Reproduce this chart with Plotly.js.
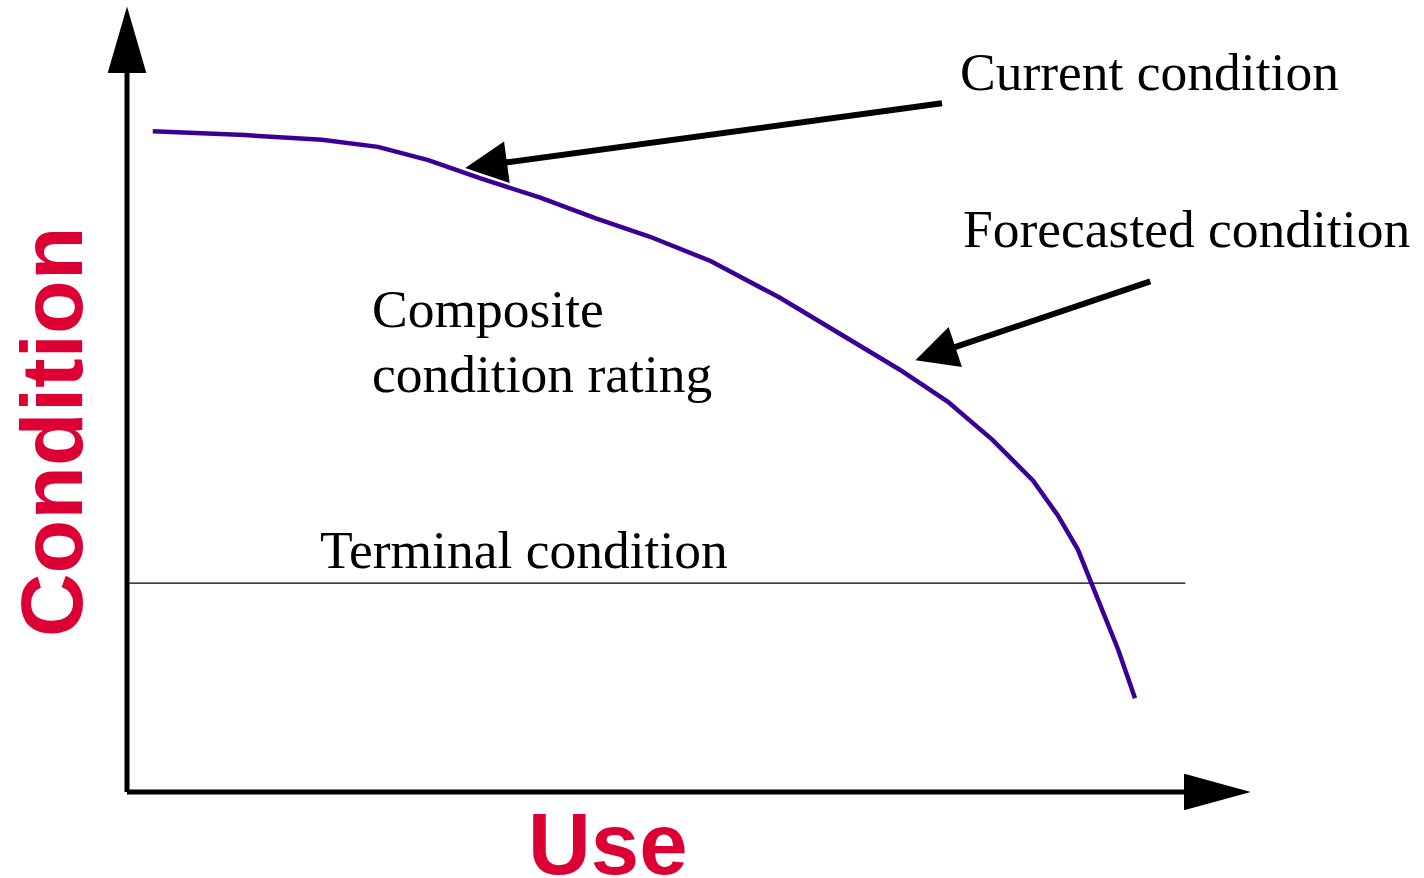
<!DOCTYPE html>
<html>
<head>
<meta charset="utf-8">
<script src="https://cdn.plot.ly/plotly-3.0.1.min.js"></script>
<style>html,body{margin:0;padding:0;background:#fff;}#chart{width:1424px;height:878px;}</style>
</head>
<body>
<div id="chart"></div>
<script>
// Use (x) vs composite condition rating (y), arbitrary units 0-100
const useValues = [2.3, 10.5, 17.4, 22.4, 26.9, 31.5, 36.9, 41.8, 46.7, 52.1, 58.3, 63.7, 69.0, 73.3, 77.3, 80.9, 83.1, 84.9, 86.7, 88.5, 90.0];
const conditionValues = [84.5, 84.0, 83.4, 82.5, 80.8, 78.5, 76.0, 73.4, 71.0, 67.9, 63.2, 58.6, 54.0, 49.9, 45.0, 39.8, 35.4, 31.0, 24.6, 18.2, 12.0];
const terminalCondition = 26.7;
const terminalUse = [0, 94.5];
const currentPoint = {use: 30.2, cond: 79.8};
const forecastPoint = {use: 70.4, cond: 55.2};
const labels = {
  current: "Current condition",
  forecast: "Forecasted condition",
  rating1: "Composite",
  rating2: "condition rating",
  terminal: "Terminal condition",
  yTitle: "Condition",
  xTitle: "Use"
};

const serif = "Liberation Serif, Times New Roman, serif";
const sans = "Liberation Sans, Arial, sans-serif";
const red = "#DC0035";

const traces = [
  {x: terminalUse, y: [terminalCondition, terminalCondition], mode: "lines",
   line: {color: "#000", width: 1.3}, hoverinfo: "skip"},
  {x: useValues, y: conditionValues, mode: "lines",
   line: {color: "#3A0096", width: 4.5}, hoverinfo: "skip"}
];

function txt(text, xp, yp, opts) {
  return Object.assign({text: text, xref: "paper", yref: "paper", x: xp, y: yp,
    showarrow: false, xanchor: "left", yanchor: "middle",
    font: {family: serif, size: 53.5, color: "#000"}}, opts || {});
}

const annotations = [
  txt(labels.current, 0.7420, 0.9207),
  txt(labels.forecast, 0.7446, 0.720),
  txt(labels.rating1, 0.2170, 0.618),
  txt(labels.rating2, 0.2170, 0.535),
  txt(labels.terminal, 0.1705, 0.309),
  txt(labels.yTitle, -0.0679, 0.4616, {xanchor: "center", textangle: -90,
    font: {family: sans, size: 88, color: red, weight: "bold"}}),
  txt(labels.xTitle, 0.4295, -0.066, {xanchor: "center",
    font: {family: sans, size: 87, color: red, weight: "bold"}}),
  {x: currentPoint.use, y: currentPoint.cond, xref: "x", yref: "y",
   ax: 72.9, ay: 88.1, axref: "x", ayref: "y", text: "", showarrow: true,
   arrowhead: 2, arrowsize: 1.4, arrowwidth: 6, arrowcolor: "#000"},
  {x: forecastPoint.use, y: forecastPoint.cond, xref: "x", yref: "y",
   ax: 91.5, ay: 65.35, axref: "x", ayref: "y", text: "", showarrow: true,
   arrowhead: 2, arrowsize: 1.4, arrowwidth: 6, arrowcolor: "#000"}
];

// axis arrows (paper coordinates: origin bottom-left of plotting area)
const W = 1120, H = 782;
const shapes = [
  {type: "line", xref: "paper", yref: "paper", x0: 0, y0: 0, x1: 0, y1: (782-62)/H,
   line: {color: "#000", width: 5}},
  {type: "line", xref: "paper", yref: "paper", x0: 0, y0: 0, x1: (1185-127)/W, y1: 0,
   line: {color: "#000", width: 5}},
  {type: "path", xref: "paper", yref: "paper",
   path: `M ${-18/W} ${720/H} L 0 1 L ${18/W} ${720/H} Z`,
   fillcolor: "#000", line: {color: "#000", width: 2}},
  {type: "path", xref: "paper", yref: "paper",
   path: `M ${1058/W} ${17/H} L 1 0 L ${1058/W} ${-17/H} Z`,
   fillcolor: "#000", line: {color: "#000", width: 2}}
];

const layout = {
  width: 1424, height: 878,
  margin: {l: 127, r: 177, t: 10, b: 86, pad: 0},
  paper_bgcolor: "#fff", plot_bgcolor: "#fff",
  showlegend: false,
  xaxis: {range: [0, 100], visible: false, fixedrange: true},
  yaxis: {range: [0, 100], visible: false, fixedrange: true},
  annotations: annotations,
  shapes: shapes
};

Plotly.newPlot("chart", traces, layout, {staticPlot: true, displayModeBar: false});
</script>
</body>
</html>
